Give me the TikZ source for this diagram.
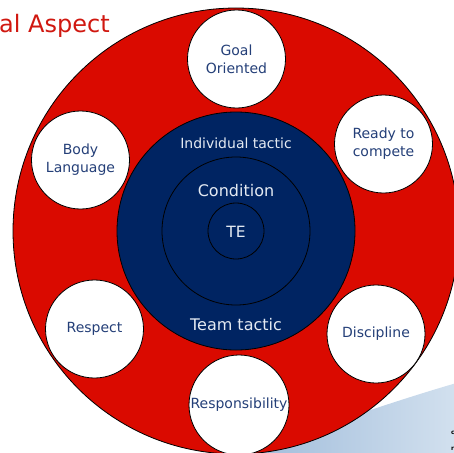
\documentclass[tikz,border=0pt]{standalone}
\usepackage{fontspec}
\setmainfont{DejaVu Sans}
\definecolor{ringred}{HTML}{DA0A00}
\definecolor{navy}{HTML}{002462}
\definecolor{bubtext}{HTML}{243F78}
\definecolor{titlered}{HTML}{D01810}
\definecolor{lighttxt}{HTML}{E4EAF2}
\definecolor{swA}{HTML}{8FB0D4}
\definecolor{swB}{HTML}{D3E1EF}
\begin{document}
\begin{tikzpicture}[x=1pt,y=-1pt,
  ring/.style={circle, inner sep=0pt, draw=black, line width=0.8pt},
  bubble/.style={circle, inner sep=0pt, minimum size=98pt, fill=white, draw=black, line width=0.8pt,
     align=center, text=bubtext, font=\fontsize{14}{18}\selectfont},
  inlabel/.style={text=lighttxt, inner sep=0pt}]
\useasboundingbox (0,0) rectangle (454,452);
\clip (0,0) rectangle (454,452);
% background swoosh
\shade[left color=swA, right color=swB]
  (180,470) -- (240,452) .. controls (320,428) and (390,402) .. (460,382) -- (460,470) -- cycle;
\node[anchor=west, inner sep=0pt, font=\bfseries\fontsize{6}{6}\selectfont] (c1) at (451,433) {c};
\node[anchor=west, inner sep=0pt, font=\bfseries\fontsize{6}{6}\selectfont] (c2) at (451,449) {r};
% rings
\node[ring, minimum size=446pt, fill=ringred] (outer) at (236,231) {};
\node[ring, minimum size=238pt, fill=navy] (mid) at (236,231) {};
\node[ring, minimum size=148pt] (cond) at (236,231) {};
\node[ring, minimum size=56pt] (te) at (236,231) {};
\node[inlabel, font=\fontsize{14}{17}\selectfont] (lind) at (236,143) {Individual tactic};
\node[inlabel, font=\fontsize{16}{19}\selectfont] (lcond) at (236,191) {Condition};
\node[inlabel, font=\fontsize{15.5}{19}\selectfont] (lte) at (236,232) {TE};
\node[inlabel, font=\fontsize{16}{19}\selectfont] (lteam) at (236,325) {Team tactic};
% bubbles
\node[bubble] (goal) at (236.5,59) {Goal\\Oriented};
\node[bubble] (ready) at (383.5,144) {Ready to\\compete};
\node[bubble] (body) at (80.5,160) {Body\\Language};
\node[bubble] (resp) at (94.5,329) {Respect};
\node[bubble] (disc) at (376,334) {Discipline};
\node[bubble, minimum size=100pt] (respo) at (239,405) {Responsibility};
% title
\node[anchor=base west, inner sep=0pt, text=titlered, font=\fontsize{24}{28}\selectfont] (title) at (-1,33) {al Aspect};
\end{tikzpicture}
\end{document}
